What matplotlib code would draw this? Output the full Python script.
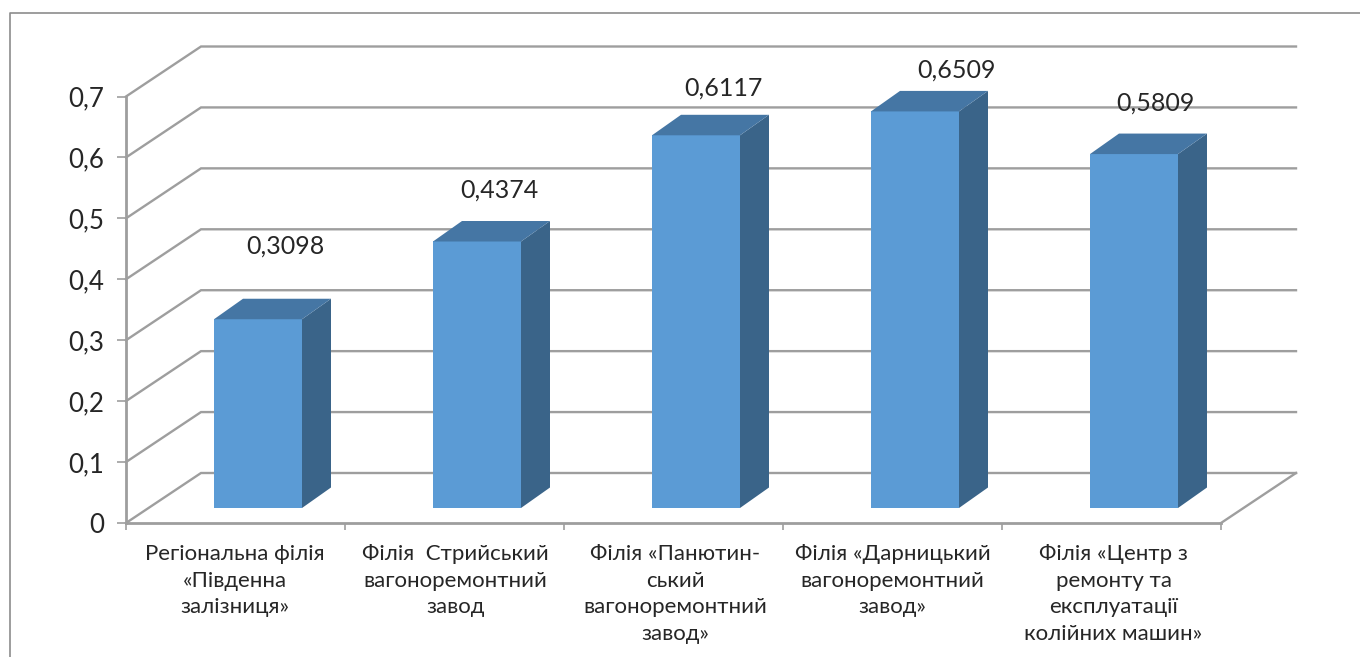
import matplotlib
matplotlib.use("Agg")
import matplotlib.pyplot as plt
from matplotlib.patches import Polygon
from matplotlib.transforms import Affine2D

plt.rcParams['font.family'] = ['Lato', 'DejaVu Sans']

categories = ["Регіональна філія\n«Південна\nзалізниця»",
              "Філія  Стрийський\nвагоноремонтний\nзавод",
              "Філія «Панютин-\nський\nвагоноремонтний\nзавод»",
              "Філія «Дарницький\nвагоноремонтний\nзавод»",
              "Філія «Центр з\nремонту та\nексплуатації\nколійних машин»"]
values = [0.3098, 0.4374, 0.6117, 0.6509, 0.5809]
value_labels = ["0,3098", "0,4374", "0,6117", "0,6509", "0,5809"]
y_ticks = [0, 0.1, 0.2, 0.3, 0.4, 0.5, 0.6, 0.7]
y_tick_labels = ["0", "0,1", "0,2", "0,3", "0,4", "0,5", "0,6", "0,7"]

W, H = 1360, 657
L, R, B, T = 126, 1221, 523, 96.5
fig = plt.figure(figsize=(W / 100, H / 100), dpi=100, facecolor='white')
ax = fig.add_axes([L / W, (H - B) / H, (R - L) / W, (B - T) / H])
ax.set_xlim(0, 5)
ax.set_ylim(0, 0.7)
ax.patch.set_visible(False)
px = 5 / (R - L)
py = 0.7 / (B - T)

GRID = '#9E9E9E'
TXT = '#262626'
DX, DY = 75 * px, 50 * py
# wall and floor
for v in y_ticks:
    ax.plot([0, DX, 5 + DX], [v, v + DY, v + DY], color=GRID, lw=1.7, clip_on=False, zorder=1,
            solid_joinstyle='miter')
ax.plot([5, 5 + DX], [0, DY], color=GRID, lw=1.7, clip_on=False, zorder=1)

# bars
bx, by = 22.5 * px, 15 * py
bw = 88 * px
sx, sy = 29 * px, 20.5 * py
FRONT, SIDE, TOP = '#5B9BD5', '#3A6489', '#4576A4'
for i, v in enumerate(values):
    x0 = i + 0.5 + bx - bw / 2
    x1 = x0 + bw
    y0 = by
    y1 = v + by
    ax.bar(x0 + bw / 2, v, width=bw, bottom=y0, color=FRONT, clip_on=False, zorder=3, linewidth=0)
    ax.add_patch(Polygon([(x1, y0), (x1 + sx, y0 + sy), (x1 + sx, y1 + sy), (x1, y1)],
                         closed=True, fc=SIDE, ec='none', clip_on=False, zorder=3))
    ax.add_patch(Polygon([(x0, y1), (x1, y1), (x1 + sx, y1 + sy), (x0 + sx, y1 + sy)],
                         closed=True, fc=TOP, ec='none', clip_on=False, zorder=3))

# data labels
label_dx = [27, 22, 27, 42, 21]
label_dy = [73, 51, 47, 41, 51]
for i, (v, s) in enumerate(zip(values, value_labels)):
    ax.annotate(s, (i + 0.5 + bx, v + by), xytext=(label_dx[i], label_dy[i]),
                textcoords='offset pixels', ha='center', va='center',
                fontsize=18, color=TXT, zorder=5, annotation_clip=False)

# axes
for s in ('top', 'right'):
    ax.spines[s].set_visible(False)
for s in ('left', 'bottom'):
    ax.spines[s].set_color(GRID)
    ax.spines[s].set_linewidth(2)
    ax.spines[s].set_zorder(2)
ax.set_yticks(y_ticks)
ax.set_yticklabels(y_tick_labels, fontsize=18.6, color=TXT)
ax.tick_params(axis='y', color=GRID, length=6.5, width=1.2, pad=9.5)
ax.set_xticks(range(6))
ax.set_xticklabels([])
ax.tick_params(axis='x', which='major', color=GRID, length=5, width=1.2)
ax.set_xticks([i + 0.5 for i in range(5)], minor=True)
ax.set_xticklabels(categories, minor=True, fontsize=16, color=TXT, linespacing=1.42,
                   ha='center', va='top')
ax.tick_params(axis='x', which='minor', length=0, pad=15)
label_shift = [-1, 1, 2, 0, 2]
for lab, d in zip(ax.get_xticklabels(minor=True), label_shift):
    lab.set_transform(lab.get_transform() + Affine2D().translate(d, 0))

# outer frame
fig.add_artist(plt.Line2D([10 / W, 10 / W, 1], [0, 1 - 12.5 / H, 1 - 12.5 / H],
                          color='#8C8C8C', lw=1.2, transform=fig.transFigure))

fig.savefig('out.png', dpi=100, facecolor='white')
